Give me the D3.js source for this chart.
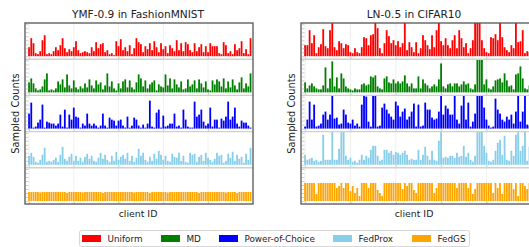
<!DOCTYPE html>
<html>
<head>
	<title>Sampled Counts per client</title>
	<script src="https://d3js.org/d3.v7.min.js"></script>
	<style type="text/css">
		body { margin:0; background:#fff; }
		svg { display:block; font-family:"DejaVu Sans", sans-serif; }
	</style>
</head>
<body>
	<script type="text/javascript">

		// methods, colours, titles
		var methods = ["Uniform", "MD", "Power-of-Choice", "FedProx", "FedGS"];
		var colors = ["#ff0000", "#008000", "#0000ff", "#87ceeb", "#ffa500"];
		var titles = ["YMF-0.9 in FashionMNIST", "LN-0.5 in CIFAR10"];
		var xTicks = [0, 20, 40, 60, 80];
		var clients = d3.range(100);

		// sampled counts, YMF-0.9 in FashionMNIST
		var ymfUniform = [9,18,13,3,2,5,16,21,2,3, 2,5,9,6,11,18,8,4,7,5, 9,15,6,3,4,5,4,3,9,5, 14,8,12,13,4,6,2,3,1,15, 10,17,6,9,5,11,2,8,18,14, 12,4,10,7,13,6,15,9,4,13, 7,10,3,11,8,5,16,6,13,5, 14,12,6,4,13,5,9,12,4,10, 4,13,10,10,10,3,2,14,11,3, 5,2,12,6,8,15,3,7,2,18];
		var ymfMD = [10,14,9,4,2,3,6,13,19,2, 3,2,4,11,8,13,5,18,7,4, 12,5,3,6,4,9,5,13,7,4, 12,8,10,3,7,19,6,11,4,2, 9,4,11,13,5,12,5,3,10,18, 14,6,12,4,8,10,12,2,8,6, 5,18,7,14,4,13,8,5,11,3, 4,13,6,8,12,4,13,9,5,11, 3,2,12,8,13,11,6,14,4,11, 5,13,7,3,10,15,4,9,6,19];
		var ymfPoC = [15,26,1,2,6,9,24,1,7,6, 5,5,3,5,14,2,19,1,14,9, 21,12,11,1,5,3,15,5,3,5, 3,1,3,15,3,1,11,9,8,3, 8,9,3,1,12,1,3,11,9,3, 1,4,1,5,28,2,1,16,19,1, 13,2,3,5,5,15,2,3,1,19, 9,2,1,1,27,12,14,19,7,3, 5,21,2,9,9,1,10,8,12,27, 9,12,21,5,2,8,6,6,3,1];
		var ymfFedProx = [9,12,8,3,2,5,10,17,3,4, 3,5,7,3,10,18,6,4,8,11, 4,9,4,7,3,8,11,6,9,4, 3,7,12,6,10,5,3,9,4,13, 5,8,10,6,12,4,9,3,7,16, 9,12,5,3,8,4,11,6,14,10, 5,9,4,3,11,8,7,12,4,9, 3,2,12,10,11,3,8,10,4,12, 7,5,3,6,12,9,10,2,4,11, 7,13,4,10,6,8,2,11,5,17];
		var ymfFedGS = [9,9,9,9,9,8.5,9,9,9,9, 9,9,9,9,9,9,9,8,9,9, 9,9,9,9,8.5,9,9,9,9,9, 9,9,9,8,9,9,9,9,9,9, 9,9,9,9,9,9,9,8.5,9,9, 9,9,9,9,8,9,9,9,9,9, 9,9,8.5,9,9,9,9,9,9,9, 9,9,9,9,9,9,8,9,9,9, 9,9,9,9,9,9,9,9,8.5,9, 9,9,9,8,9,9,9,9,9,9];

		// sampled counts, LN-0.5 in CIFAR10
		var lnUniform = [11,11,26,13,21,3,9,12,27,10, 8,26,36,9,6,15,13,8,12,11, 4,3,8,4,3,9,19,18,11,21, 22,36,28,8,3,13,26,20,13,16, 11,15,9,13,36,6,14,9,4,14, 3,8,21,16,11,7,21,9,26,36, 15,11,18,11,8,16,21,8,26,18, 9,13,3,8,16,36,36,36,16,8, 4,3,19,18,22,16,36,19,9,6, 4,11,8,36,14,15,26,3,5,4];
		var lnMD = [10,4,7,9,6,4,3,3,7,25, 4,14,31,6,15,4,19,14,6,4, 3,2,4,3,3,8,9,7,8,16, 15,17,6,4,3,14,16,10,9,13, 9,11,9,11,17,9,6,9,4,4, 16,4,13,9,7,4,6,8,6,13, 29,6,4,8,9,6,9,9,6,8, 11,8,9,4,3,8,36,34,35,8, 13,4,3,6,12,13,14,10,19,12, 6,7,3,18,19,26,14,4,3,7];
		var lnPoC = [2,9,27,9,24,2,3,5,14,17, 9,14,33,10,11,4,5,19,14,6, 5,9,3,5,2,24,36,32,7,2, 36,36,2,3,21,25,19,15,12,9, 27,23,12,17,20,9,12,17,25,2, 24,2,3,26,19,19,11,9,10,17, 36,14,23,20,14,14,36,9,5,23, 36,9,26,2,7,15,36,36,36,21, 9,3,1,2,30,19,15,9,7,12, 9,14,5,17,36,7,17,36,4,3];
		var lnFedProx = [10,5,6,7,4,5,3,4,30,5, 5,5,36,5,5,16,36,36,9,5, 7,3,4,2,5,10,5,9,7,15, 19,19,9,4,5,15,15,12,14,10, 13,12,10,12,14,10,5,6,5,5, 15,5,10,18,9,5,14,5,4,24, 36,7,8,7,9,9,7,12,8,9, 19,8,12,5,3,9,36,36,36,19, 12,4,3,5,14,22,25,10,29,5, 4,14,9,30,36,14,19,36,4,18];
		var lnFedGS = [18,18,18,18,18,7,18,18,18,18, 18,18,18,18,13,15,18,13,18,18, 10,15,8,13,5,18,18,18,13,18, 18,18,11,8,5,18,18,18,18,18, 18,18,18,12,18,15,18,18,11,8, 18,18,18,18,18,18,18,8,13,18, 18,18,18,18,18,18,18,13,18,18, 18,18,13,18,7,12,18,18,18,18, 18,18,18,8,18,13,18,7,18,18, 18,18,12,18,5,18,18,15,12,18];

		// the right panel runs past the picture's edge
		var panels = [
			{title: titles[0], left: 25, width: 228, series: [ymfUniform, ymfMD, ymfPoC, ymfFedProx, ymfFedGS]},
			{title: titles[1], left: 301, width: 231, series: [lnUniform, lnMD, lnPoC, lnFedProx, lnFedGS]}
		];

		var w = 529, h = 247;
		var plotTop = 23, plotBottom = 204;
		var rowH = (plotBottom - plotTop) / methods.length;

		var svg = d3.select("body").append("svg")
			.attr("width", w)
			.attr("height", h);

		panels.forEach(function(p, pi){
			var g = svg.append("g");

			var x = d3.scaleLinear()
				.domain([-1.8, 100.1])
				.range([p.left, p.left + p.width]);
			var step = x(1) - x(0);

			// title and axis labels
			g.append("text")
				.attr("x", p.left + 113)
				.attr("y", 17.5)
				.attr("text-anchor", "middle")
				.attr("font-size", "10.6px")
				.attr("fill", "#222")
				.text(p.title);

			g.append("text")
				.attr("transform", "translate(" + (p.left - 6.5) + "," + ((plotTop + plotBottom) / 2) + ") rotate(-90)")
				.attr("text-anchor", "middle")
				.attr("font-size", "9.8px")
				.attr("fill", "#222")
				.text("Sampled Counts");

			g.append("text")
				.attr("x", p.left + 113)
				.attr("y", 217)
				.attr("text-anchor", "middle")
				.attr("font-size", "9.4px")
				.attr("fill", "#222")
				.text("client ID");

			p.series.forEach(function(vals, k){
				var rowTop = plotTop + k * rowH;
				var base = rowTop + rowH - 3;
				var y = d3.scaleLinear().domain([0, 33]).range([base, base - 33]);

				var clipId = "clip" + pi + "_" + k;
				svg.append("clipPath").attr("id", clipId)
					.append("rect")
					.attr("x", p.left).attr("y", rowTop)
					.attr("width", p.width).attr("height", rowH);

				var row = g.append("g").attr("clip-path", "url(#" + clipId + ")");

				// faint vertical grid
				row.selectAll("line.grid")
					.data(xTicks)
					.enter().append("line")
					.attr("class", "grid")
					.attr("x1", function(d){ return x(d); })
					.attr("x2", function(d){ return x(d); })
					.attr("y1", rowTop).attr("y2", rowTop + rowH)
					.attr("stroke", "#ececec")
					.attr("stroke-width", 0.8);

				// bars
				row.selectAll("rect.bar")
					.data(clients)
					.enter().append("rect")
					.attr("class", "bar")
					.attr("x", function(d){ return x(d) - step * 0.4; })
					.attr("width", step * 0.8)
					.attr("y", function(d){ return y(vals[d]); })
					.attr("height", function(d){ return base - y(vals[d]); })
					.attr("fill", colors[k]);

				// y ticks (inward, no labels)
				var yAxis = d3.axisRight(y)
					.tickValues(d3.range(0, 36, 4))
					.tickSize(2.5)
					.tickFormat("");
				row.append("g")
					.attr("transform", "translate(" + (p.left + 1) + ",0)")
					.call(yAxis)
					.call(function(s){
						s.select(".domain").remove();
						s.selectAll("line").attr("stroke", "#bbb").attr("stroke-width", 0.7);
					});

				// x ticks (inward, no labels)
				var xAxis = d3.axisTop(x)
					.tickValues(xTicks)
					.tickSize(2.5)
					.tickFormat("");
				row.append("g")
					.attr("transform", "translate(0," + (rowTop + rowH) + ")")
					.call(xAxis)
					.call(function(s){
						s.select(".domain").remove();
						s.selectAll("line").attr("stroke", "#bbb").attr("stroke-width", 0.7);
					});

				// row divider
				if(k > 0){
					g.append("line")
						.attr("x1", p.left).attr("x2", p.left + p.width)
						.attr("y1", rowTop).attr("y2", rowTop)
						.attr("stroke", "#d0d0d0")
						.attr("stroke-width", 1.4);
				}
			});

			// outer frame
			g.append("rect")
				.attr("x", p.left).attr("y", plotTop)
				.attr("width", p.width).attr("height", plotBottom - plotTop)
				.attr("fill", "none")
				.attr("stroke", "#555")
				.attr("stroke-width", 1.3);
		});

		// legend
		var legend = svg.append("g");
		legend.append("rect")
			.attr("x", 79.5).attr("y", 230.5)
			.attr("width", 390).attr("height", 16)
			.attr("rx", 2)
			.attr("fill", "#fff")
			.attr("stroke", "#ccc")
			.attr("stroke-width", 0.8);

		var legendX = [82, 161, 219, 333, 412];
		methods.forEach(function(m, i){
			legend.append("rect")
				.attr("x", legendX[i]).attr("y", 235)
				.attr("width", 19).attr("height", 7)
				.attr("fill", colors[i]);
			legend.append("text")
				.attr("x", legendX[i] + 25.5)
				.attr("y", 241.5)
				.attr("font-size", "8.8px")
				.attr("fill", "#222")
				.text(m);
		});

	</script>
</body>
</html>
